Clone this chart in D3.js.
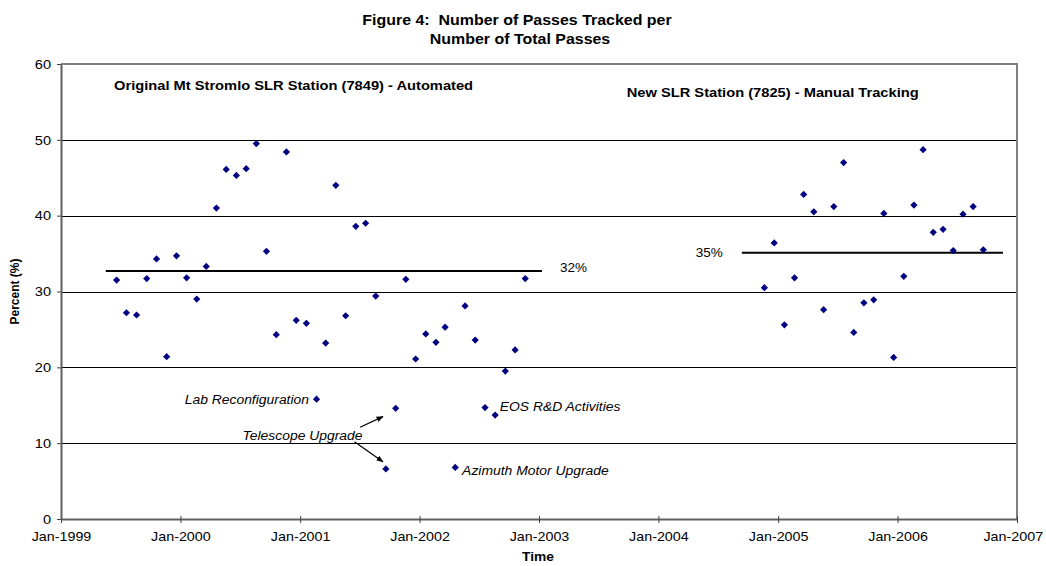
<!DOCTYPE html>
<html>
<head>
<meta charset="utf-8">
<script src="https://cdn.jsdelivr.net/npm/d3@7"></script>
<style>
  body { margin: 0; background: #fff; }
  svg { display: block; font-family: Arial, "Liberation Sans", sans-serif; }
</style>
</head>
<body>
<div id="chart"></div>
<script>
// Monthly tracking percentage, original Mt Stromlo station (7849), Jun-1999 .. Nov-2002
const automatedDates = [
  '1999-06-20', '1999-07-20', '1999-08-20', '1999-09-20', '1999-10-20', '1999-11-20', '1999-12-20',
  '2000-01-20', '2000-02-20', '2000-03-20', '2000-04-20', '2000-05-20', '2000-06-20',
  '2000-07-20', '2000-08-20', '2000-09-20', '2000-10-20', '2000-11-20', '2000-12-20',
  '2001-01-20', '2001-02-20', '2001-03-20', '2001-04-20', '2001-05-20', '2001-06-20',
  '2001-07-20', '2001-08-20', '2001-09-20', '2001-10-20', '2001-11-20', '2001-12-20',
  '2002-01-20', '2002-02-20', '2002-03-20', '2002-04-20', '2002-05-20', '2002-06-20',
  '2002-07-20', '2002-08-20', '2002-09-20', '2002-10-20', '2002-11-20'
];
const automatedValues = [
  31.5, 27.2, 26.9, 31.7, 34.3, 21.4, 34.7,
  31.8, 29.0, 33.3, 41.0, 46.1, 45.3,
  46.2, 49.5, 35.3, 24.3, 48.4, 26.2,
  25.8, 15.8, 23.2, 44.0, 26.8, 38.6,
  39.0, 29.4, 6.6, 14.6, 31.6, 21.1,
  24.4, 23.3, 25.3, 6.8, 28.1, 23.6,
  14.7, 13.7, 19.5, 22.3, 31.7
];

// New SLR station (7825), manual tracking, Nov-2004 .. Sep-2006
const manualDates = [
  '2004-11-20', '2004-12-20',
  '2005-01-20', '2005-02-20', '2005-03-20', '2005-04-20', '2005-05-20', '2005-06-20',
  '2005-07-20', '2005-08-20', '2005-09-20', '2005-10-20', '2005-11-20', '2005-12-20',
  '2006-01-20', '2006-02-20', '2006-03-20', '2006-04-20', '2006-05-20', '2006-06-20',
  '2006-07-20', '2006-08-20', '2006-09-20'
];
const manualValues = [
  30.5, 36.4,
  25.6, 31.8, 42.8, 40.5, 27.6, 41.2,
  47.0, 24.6, 28.5, 28.9, 40.3, 21.3,
  32.0, 41.4, 48.7, 37.8, 38.2, 35.4,
  40.2, 41.2, 35.5
];

// Average lines
const averageLines = [
  { start: '1999-05-18', end: '2003-01-10', value: 32.7, label: '32%' },
  { start: '2004-09-12', end: '2006-11-19', value: 35.1, label: '35%' }
];

// Italic event annotations
const eventLabels = [
  { date: '2001-01-28', value: 15.8, text: 'Lab Reconfiguration', anchor: 'end' },
  { date: '2000-07-09', value: 11.1, text: 'Telescope Upgrade', anchor: 'start' },
  { date: '2002-09-03', value: 14.8, text: 'EOS R&D Activities', anchor: 'start' },
  { date: '2002-05-11', value: 6.4, text: 'Azimuth Motor Upgrade', anchor: 'start' }
];
const eventArrows = [
  { from: ['2001-07-03', 12.1], to: ['2001-09-11', 13.5] },
  { from: ['2001-06-16', 10.2], to: ['2001-09-11', 7.55] }
];

const stationLabels = [
  { date: '1999-06-12', value: 57.2, text: 'Original Mt Stromlo SLR Station (7849) - Automated' },
  { date: '2003-09-26', value: 56.3, text: 'New SLR Station (7825) - Manual Tracking' }
];

const titleLines = ['Figure 4:  Number of Passes Tracked per', 'Number of Total Passes'];
const xDomain = ['1999-01-01', '2007-01-01'];
const yDomain = [0, 60];
const yTicks = [0, 10, 20, 30, 40, 50, 60];

const parse = d3.utcParse('%Y-%m-%d');
const W = 1046, H = 566;
const margin = { top: 64, right: 29, bottom: 47, left: 61 };

const svg = d3.select('#chart').append('svg')
  .attr('width', W).attr('height', H);

const x = d3.scaleUtc()
  .domain(xDomain.map(parse))
  .range([margin.left, W - margin.right]);
const y = d3.scaleLinear()
  .domain(yDomain)
  .range([H - margin.bottom, margin.top]);

// the original text is rendered slightly wide, so stretch it horizontally
function placeText(sel, px, py, sx) {
  sel.attr('transform', (d, i) => `translate(${px(d, i)},${py(d, i)}) scale(${sx},1)`);
}

// Title
svg.append('g')
  .selectAll('text')
  .data(titleLines)
  .join('text')
  .call(placeText, (d, i) => i === 0 ? 517 : 520, (d, i) => i === 0 ? 25 : 44, 1.14)
  .attr('text-anchor', 'middle')
  .style('white-space', 'pre')
  .attr('font-size', '14px').attr('font-weight', 'bold')
  .text(d => d);

// Gridlines
svg.append('g')
  .selectAll('line')
  .data(yTicks.filter(d => d > 0 && d < 60))
  .join('line')
  .attr('x1', x.range()[0]).attr('x2', x.range()[1])
  .attr('y1', d => Math.round(y(d)) + 0.5).attr('y2', d => Math.round(y(d)) + 0.5)
  .attr('stroke', '#000').attr('stroke-width', 1);

// Plot frame (top / right)
svg.append('path')
  .attr('d', `M${x.range()[0]},${y(60)}H${x.range()[1]}V${y(0)}`)
  .attr('fill', 'none').attr('stroke', '#808080').attr('stroke-width', 2);

// Axes
const xAxis = d3.axisBottom(x)
  .ticks(d3.utcYear.every(1))
  .tickFormat(d3.utcFormat('%b-%Y'))
  .tickSizeInner(4).tickSizeOuter(0).tickPadding(8);
const xg = svg.append('g')
  .attr('transform', `translate(0,${y(0)})`)
  .call(xAxis);
xg.select('.domain').attr('stroke', '#606060').attr('stroke-width', 2);
xg.selectAll('.tick line').attr('stroke', '#404040').attr('y1', -3);
xg.selectAll('text').attr('font-size', '13.5px').attr('fill', '#000')
  .attr('font-family', 'Arial, "Liberation Sans", sans-serif')
  .attr('transform', 'scale(1.06,1)');
// keep the last label inside the picture, as the original does
xg.selectAll('.tick:last-of-type text').attr('x', -4);

const yAxis = d3.axisLeft(y)
  .tickValues(yTicks)
  .tickSizeInner(4).tickSizeOuter(0).tickPadding(6);
const yg = svg.append('g')
  .attr('transform', `translate(${x.range()[0]},0)`)
  .call(yAxis);
yg.select('.domain').attr('stroke', '#606060').attr('stroke-width', 2);
yg.selectAll('.tick line').attr('stroke', '#404040');
yg.selectAll('text').attr('font-size', '13.5px').attr('fill', '#000')
  .attr('font-family', 'Arial, "Liberation Sans", sans-serif')
  .attr('x', -10 / 1.08)
  .attr('transform', 'scale(1.08,1)');

// Axis titles
svg.append('text')
  .call(placeText, () => 538, () => 561, 1.1)
  .attr('text-anchor', 'middle')
  .attr('font-size', '12.5px').attr('font-weight', 'bold')
  .text('Time');
svg.append('text')
  .attr('transform', `translate(19,${(y(0) + y(60)) / 2}) rotate(-90)`)
  .attr('text-anchor', 'middle')
  .attr('font-size', '12px').attr('font-weight', 'bold')
  .text('Percent (%)');

// Station labels
svg.append('g')
  .selectAll('text')
  .data(stationLabels)
  .join('text')
  .call(placeText, d => x(parse(d.date)), d => y(d.value), 1.13)
  .attr('dy', '0.35em')
  .attr('font-size', '13px').attr('font-weight', 'bold')
  .text(d => d.text);

// Average lines
svg.append('g')
  .selectAll('line')
  .data(averageLines)
  .join('line')
  .attr('x1', d => x(parse(d.start))).attr('x2', d => x(parse(d.end)))
  .attr('y1', d => y(d.value)).attr('y2', d => y(d.value))
  .attr('stroke', '#000').attr('stroke-width', 2);
svg.append('text')
  .attr('x', x(parse(averageLines[0].end)) + 18)
  .attr('y', y(averageLines[0].value))
  .attr('dy', '0.1em')
  .attr('font-size', '13.5px')
  .text(averageLines[0].label);
svg.append('text')
  .attr('x', x(parse(averageLines[1].start)) - 19)
  .attr('y', y(averageLines[1].value))
  .attr('dy', '0.3em')
  .attr('text-anchor', 'end')
  .attr('font-size', '13.5px')
  .text(averageLines[1].label);

// Event annotations
svg.append('defs').append('marker')
  .attr('id', 'arrow')
  .attr('viewBox', '0 0 10 10')
  .attr('refX', 9).attr('refY', 5)
  .attr('markerWidth', 6).attr('markerHeight', 6)
  .attr('orient', 'auto')
  .append('path')
  .attr('d', 'M0,1L10,5L0,9Z')
  .attr('fill', '#000');

svg.append('g')
  .selectAll('line')
  .data(eventArrows)
  .join('line')
  .attr('x1', d => x(parse(d.from[0]))).attr('y1', d => y(d.from[1]))
  .attr('x2', d => x(parse(d.to[0]))).attr('y2', d => y(d.to[1]))
  .attr('stroke', '#000').attr('stroke-width', 1.2)
  .attr('marker-end', 'url(#arrow)');

svg.append('g')
  .selectAll('text')
  .data(eventLabels)
  .join('text')
  .call(placeText, d => x(parse(d.date)), d => y(d.value), 1.03)
  .attr('dy', '0.35em')
  .attr('text-anchor', d => d.anchor)
  .attr('font-size', '13.5px').attr('font-style', 'italic')
  .text(d => d.text);

// Points
const diamond = d3.symbol().type(d3.symbolSquare).size(26);
const points = automatedDates.map((d, i) => ({ date: parse(d), value: automatedValues[i] }))
  .concat(manualDates.map((d, i) => ({ date: parse(d), value: manualValues[i] })));

svg.append('g')
  .selectAll('path')
  .data(points)
  .join('path')
  .attr('d', diamond)
  .attr('transform', d => `translate(${x(d.date)},${y(d.value)}) rotate(45)`)
  .attr('fill', '#000080');
</script>
</body>
</html>
